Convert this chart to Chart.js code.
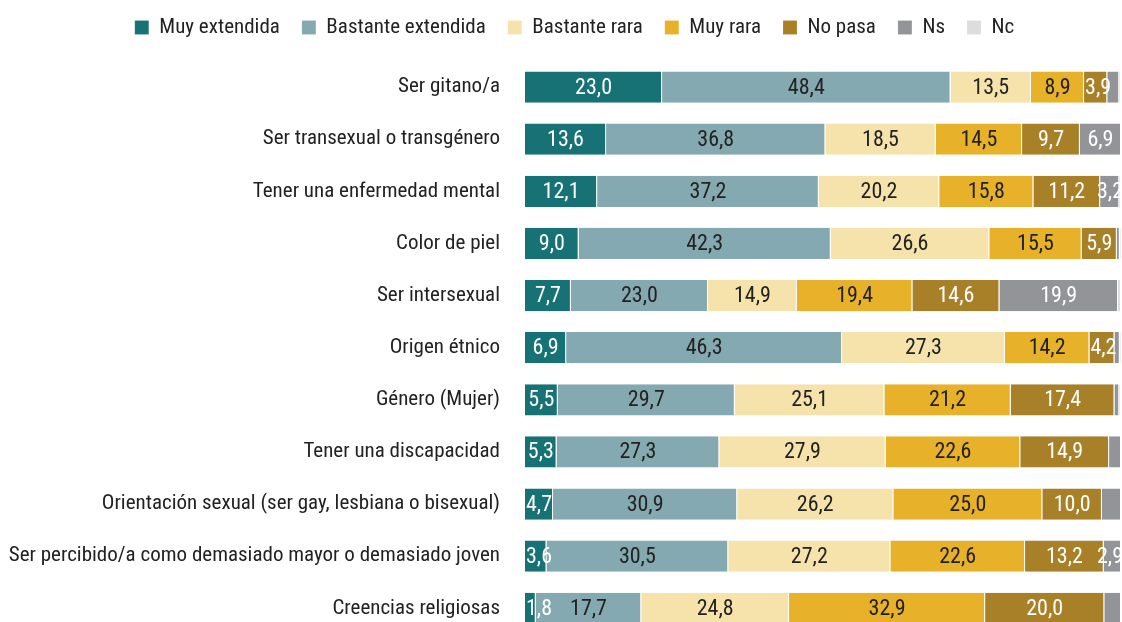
<!DOCTYPE html>
<html>
<head>
<meta charset="utf-8">
<script src="https://cdn.jsdelivr.net/npm/chart.js@4/dist/chart.umd.min.js"></script>
<style>
html,body{margin:0;padding:0;background:#fff;overflow:hidden;}
</style>
</head>
<body>
<canvas id="c" width="1122" height="672"></canvas>
<script>
const categories = [
  "Ser gitano/a",
  "Ser transexual o transgénero",
  "Tener una enfermedad mental",
  "Color de piel",
  "Ser intersexual",
  "Origen étnico",
  "Género (Mujer)",
  "Tener una discapacidad",
  "Orientación sexual (ser gay, lesbiana o bisexual)",
  "Ser percibido/a como demasiado mayor o demasiado joven",
  "Creencias religiosas"
];
const muyExtendida      = [23.0, 13.6, 12.1, 9.0, 7.7, 6.9, 5.5, 5.3, 4.7, 3.6, 1.8];
const bastanteExtendida = [48.4, 36.8, 37.2, 42.3, 23.0, 46.3, 29.7, 27.3, 30.9, 30.5, 17.7];
const bastanteRara      = [13.5, 18.5, 20.2, 26.6, 14.9, 27.3, 25.1, 27.9, 26.2, 27.2, 24.8];
const muyRara           = [8.9, 14.5, 15.8, 15.5, 19.4, 14.2, 21.2, 22.6, 25.0, 22.6, 32.9];
const noPasa            = [3.9, 9.7, 11.2, 5.9, 14.6, 4.2, 17.4, 14.9, 10.0, 13.2, 20.0];
const ns                = [2.0, 6.9, 3.2, 0.5, 19.9, 0.9, 0.8, 2.0, 3.2, 2.9, 2.8];
const nc                = [0.3, 0.0, 0.3, 0.2, 0.5, 0.2, 0.3, 0.0, 0.0, 0.0, 0.0];
// which Ns values carry a printed label in the original
const nsLabelShown      = [false, true, true, false, true, false, false, false, false, true, false];

const seriesNames = ["Muy extendida","Bastante extendida","Bastante rara","Muy rara","No pasa","Ns","Nc"];
const seriesData = [muyExtendida, bastanteExtendida, bastanteRara, muyRara, noPasa, ns, nc];
const colors = ["#167274","#85a9b0","#f5e3ab","#e8b12a","#a88027","#939497","#dcdddf"];
const labelColors = ["#ffffff","#222222","#222222","#222222","#ffffff","#ffffff",null];

const FONT = "'Roboto Condensed', 'DejaVu Sans Condensed', sans-serif";
const fontObj = {family: FONT, size: 21};
const valueFont = "22px " + FONT;

const labelPlugin = {
  id: 'segLabels',
  afterDatasetsDraw(chart) {
    const ctx = chart.ctx;
    const right = chart.chartArea.right + 2;
    ctx.save();
    ctx.font = valueFont;
    ctx.textBaseline = 'middle';
    ctx.textAlign = 'center';
    chart.data.datasets.forEach((ds, di) => {
      const col = labelColors[di];
      if (!col) return;
      const meta = chart.getDatasetMeta(di);
      meta.data.forEach((el, i) => {
        const v = ds.data[i];
        if (!v) return;
        if (di === 5 && !nsLabelShown[i]) return;
        const txt = v.toFixed(1).replace('.', ',');
        const w = ctx.measureText(txt).width;
        const start = Math.min(el.base, el.x);
        let cx = (el.x + el.base) / 2;
        if (cx - w / 2 < start + 1) cx = start + 1 + w / 2;
        if (cx + w / 2 > right) cx = right - w / 2;
        ctx.fillStyle = col;
        ctx.fillText(txt, cx, el.y + 1);
      });
    });
    ctx.restore();
  }
};

const legendTweak = {
  id: 'legendTweak',
  beforeInit(chart) {
    const orig = chart.legend.fit;
    chart.legend.fit = function () { orig.call(this); this.height += 13; };
  },
  afterLayout(chart) {
    chart.legend.left += 14;
    chart.legend.right += 14;
  }
};

new Chart(document.getElementById('c'), {
  type: 'bar',
  data: {
    labels: categories,
    datasets: seriesNames.map((n, i) => ({
      label: n,
      data: seriesData[i],
      backgroundColor: colors[i],
      borderColor: 'rgba(255,255,255,0.55)',
      borderWidth: {left: 0, right: 1, top: 0, bottom: 0},
      borderSkipped: false,
      barPercentage: 0.6,
      categoryPercentage: 1.0
    }))
  },
  options: {
    indexAxis: 'y',
    responsive: false,
    animation: false,
    layout: {padding: {top: -5, right: 1, left: 0, bottom: 5}},
    plugins: {
      legend: {
        position: 'top',
        labels: {boxWidth: 14, boxHeight: 14, padding: 22, color: '#222', font: fontObj}
      },
      tooltip: {enabled: false}
    },
    scales: {
      x: {stacked: true, min: 0, max: 100, display: false},
      y: {
        stacked: true,
        grid: {display: false, drawTicks: false},
        border: {display: false},
        ticks: {color: '#222', padding: 25, font: fontObj},
        afterFit(s) { s.width = 525; }
      }
    }
  },
  plugins: [labelPlugin, legendTweak]
});
</script>
</body>
</html>
